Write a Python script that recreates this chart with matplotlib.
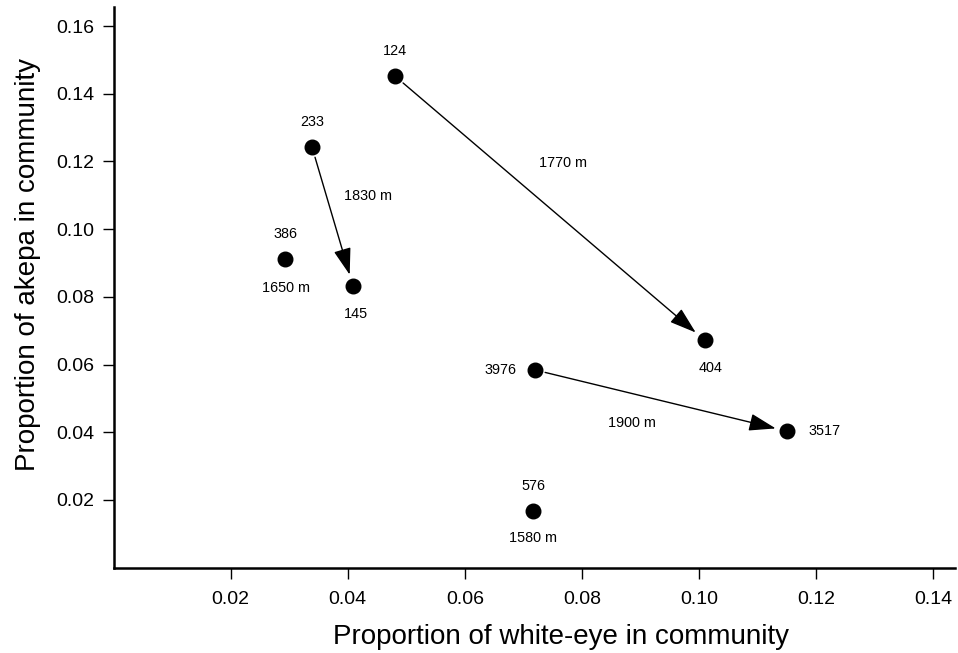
import matplotlib
matplotlib.use("Agg")
import matplotlib.pyplot as plt

plt.rcParams['font.family'] = ['Liberation Sans', 'DejaVu Sans']

# Data
site_labels = ["124", "233", "386", "145", "404", "3976", "3517", "576"]
white_eye = [0.0481, 0.0339, 0.0293, 0.0409, 0.1010, 0.0720, 0.1151, 0.0717]
akepa = [0.1452, 0.1242, 0.0911, 0.0832, 0.0672, 0.0584, 0.0403, 0.0167]

# arrows: (from site, to site)
arrow_pairs = [("124", "404"), ("233", "145"), ("3976", "3517")]

# distance annotations (text, x, y) in data coords
dist_labels = ["1770 m", "1830 m", "1650 m", "1900 m", "1580 m"]
dist_x = [0.0768, 0.0435, 0.0294, 0.0885, 0.0717]
dist_y = [0.1195, 0.1098, 0.0825, 0.0427, 0.0088]

x_ticks = [0.02, 0.04, 0.06, 0.08, 0.10, 0.12, 0.14]
y_ticks = [0.02, 0.04, 0.06, 0.08, 0.10, 0.12, 0.14, 0.16]

# label offsets in points (style/position only)
label_offsets = {
    "124": (0, 18), "233": (0, 18), "386": (0, 18), "576": (0, 18),
    "145": (2, -20), "404": (4, -20), "3976": (-25, 0), "3517": (27, 0),
}

fig = plt.figure(figsize=(9.58, 6.53), dpi=100)
ax = fig.add_axes([0.1187, 0.1308, 0.8783, 0.8582])

ax.scatter(white_eye, akepa, s=110, color='black', zorder=3)

idx = {lab: i for i, lab in enumerate(site_labels)}
for a, b in arrow_pairs:
    i, j = idx[a], idx[b]
    ax.annotate("", xy=(white_eye[j], akepa[j]), xytext=(white_eye[i], akepa[i]),
                arrowprops=dict(arrowstyle="-|>,head_length=0.83,head_width=0.27",
                                mutation_scale=20, color='black', lw=1.0,
                                shrinkA=7.5, shrinkB=8.5))

for lab, x, y in zip(site_labels, white_eye, akepa):
    dx, dy = label_offsets[lab]
    ax.annotate(lab, xy=(x, y), xytext=(dx, dy), textcoords='offset points',
                ha='center', va='center', fontsize=10.4)

for t, x, y in zip(dist_labels, dist_x, dist_y):
    ax.text(x, y, t, ha='center', va='center', fontsize=10.4)

ax.set_xlim(0, 0.1438)
ax.set_ylim(0, 0.1656)
ax.set_xticks(x_ticks)
ax.set_yticks(y_ticks)
ax.set_xticklabels([f"{v:.2f}" for v in x_ticks])
ax.set_yticklabels([f"{v:.2f}" for v in y_ticks])

for s in ['top', 'right']:
    ax.spines[s].set_visible(False)
for s in ['left', 'bottom']:
    ax.spines[s].set_linewidth(1.8)

ax.tick_params(axis='both', direction='out', length=8, width=1, labelsize=14)
ax.tick_params(axis='x', pad=9)
ax.tick_params(axis='y', pad=6)

xl = ax.set_xlabel("Proportion of white-eye in community", fontsize=20)
yl = ax.set_ylabel("Proportion of akepa in community", fontsize=20)
xl.set_va('center'); xl.set_ha('center')
yl.set_va('center'); yl.set_ha('center')
ax.xaxis.set_label_coords(0.532, -0.124)
ax.yaxis.set_label_coords(-0.102, 0.540)

fig.savefig("out.png", dpi=100)
